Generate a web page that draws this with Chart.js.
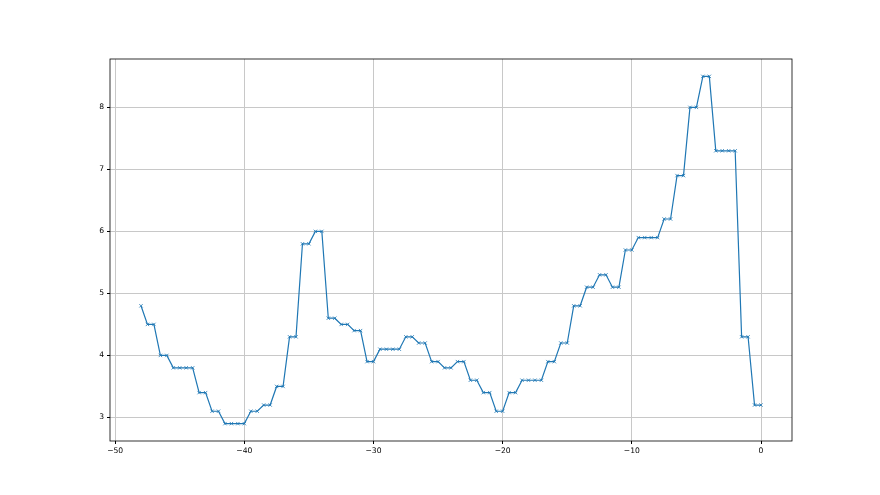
<!DOCTYPE html>
<html>
<head>
<meta charset="utf-8">
<script src="https://cdn.jsdelivr.net/npm/chart.js@4"></script>
<style>
  html, body { margin: 0; padding: 0; background: #fff; }
  #wrap { width: 880px; height: 495px; }
</style>
</head>
<body>
<div id="wrap"><canvas id="myChart" width="880" height="495"></canvas></div>
<script>
// x positions: -48 .. 0 in half steps
const xValues = [
	-48, -47.5, -47, -46.5, -46, -45.5, -45, -44.5, -44, -43.5, -43, -42.5,
	-42, -41.5, -41, -40.5, -40, -39.5, -39, -38.5, -38, -37.5, -37, -36.5,
	-36, -35.5, -35, -34.5, -34, -33.5, -33, -32.5, -32, -31.5, -31, -30.5,
	-30, -29.5, -29, -28.5, -28, -27.5, -27, -26.5, -26, -25.5, -25, -24.5,
	-24, -23.5, -23, -22.5, -22, -21.5, -21, -20.5, -20, -19.5, -19, -18.5,
	-18, -17.5, -17, -16.5, -16, -15.5, -15, -14.5, -14, -13.5, -13, -12.5,
	-12, -11.5, -11, -10.5, -10, -9.5, -9, -8.5, -8, -7.5, -7, -6.5,
	-6, -5.5, -5, -4.5, -4, -3.5, -3, -2.5, -2, -1.5, -1, -0.5, 0
];
const yValues = [
	4.8, 4.5, 4.5, 4.0, 4.0, 3.8, 3.8, 3.8, 3.8, 3.4, 3.4, 3.1,
	3.1, 2.9, 2.9, 2.9, 2.9, 3.1, 3.1, 3.2, 3.2, 3.5, 3.5, 4.3,
	4.3, 5.8, 5.8, 6.0, 6.0, 4.6, 4.6, 4.5, 4.5, 4.4, 4.4, 3.9,
	3.9, 4.1, 4.1, 4.1, 4.1, 4.3, 4.3, 4.2, 4.2, 3.9, 3.9, 3.8,
	3.8, 3.9, 3.9, 3.6, 3.6, 3.4, 3.4, 3.1, 3.1, 3.4, 3.4, 3.6,
	3.6, 3.6, 3.6, 3.9, 3.9, 4.2, 4.2, 4.8, 4.8, 5.1, 5.1, 5.3,
	5.3, 5.1, 5.1, 5.7, 5.7, 5.9, 5.9, 5.9, 5.9, 6.2, 6.2, 6.9,
	6.9, 8.0, 8.0, 8.5, 8.5, 7.3, 7.3, 7.3, 7.3, 4.3, 4.3, 3.2, 3.2
];
const xTicks = [-50, -40, -30, -20, -10, 0];
const yTicks = [3, 4, 5, 6, 7, 8];

const tickFont = { family: 'DejaVu Sans', size: 7.6 };
const fmt = v => String(v).replace('-', '\u2212');

// black frame on all four sides, like matplotlib spines
const frame = {
	id: 'frame',
	afterDraw(chart) {
		const a = chart.chartArea, c = chart.ctx;
		c.save();
		c.strokeStyle = '#000';
		c.lineWidth = 0.8;
		c.strokeRect(a.left, a.top, a.right - a.left, a.bottom - a.top);
		c.restore();
	}
};

const ctx = document.getElementById('myChart').getContext('2d');

let myChart = new Chart(ctx, {
	type: 'scatter',
	data: {
		datasets: [{
			data: xValues.map((x, i) => ({ x: x, y: yValues[i] })),
			showLine: true,
			borderColor: '#1f77b4',
			borderWidth: 1.2,
			pointStyle: 'crossRot',
			pointRadius: 2.4,
			pointBorderWidth: 0.8,
			pointBorderColor: '#1f77b4',
			pointBackgroundColor: '#1f77b4',
			pointHoverRadius: 2.4
		}]
	},
	options: {
		responsive: false,
		animation: false,
		layout: { padding: { left: 0, right: 88, top: 59, bottom: 0 } },
		plugins: { legend: { display: false }, tooltip: { enabled: false } },
		scales: {
			x: {
				type: 'linear',
				min: -50.4,
				max: 2.4,
				afterBuildTicks: s => { s.ticks = xTicks.map(v => ({ value: v })); },
				afterFit: s => { s.height = 54; },
				grid: { color: '#c8c8c8', lineWidth: 1, tickLength: 3, tickColor: '#000' },
				border: { display: false },
				ticks: { color: '#000', font: tickFont, padding: 2, maxRotation: 0, callback: fmt }
			},
			y: {
				type: 'linear',
				min: 2.62,
				max: 8.78,
				afterBuildTicks: s => { s.ticks = yTicks.map(v => ({ value: v })); },
				afterFit: s => { s.width = 110; },
				grid: { color: '#c8c8c8', lineWidth: 1, tickLength: 3, tickColor: '#000' },
				border: { display: false },
				ticks: { color: '#000', font: tickFont, padding: 3, callback: fmt }
			}
		}
	},
	plugins: [frame]
});
</script>
</body>
</html>
